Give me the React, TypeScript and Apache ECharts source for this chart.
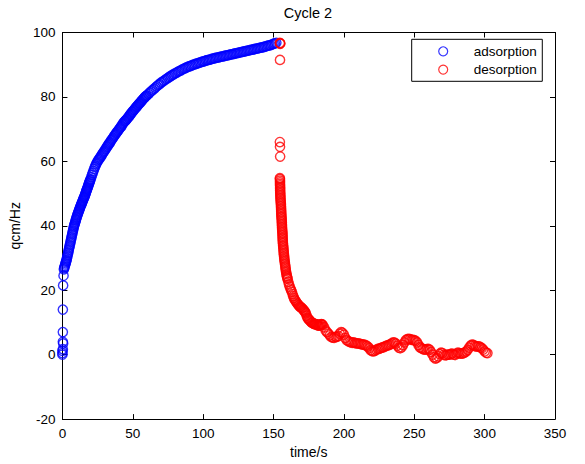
import React, { useEffect, useRef } from "react";
import * as echarts from "echarts";

const titleText = "Cycle 2";
const xName = "time/s";
const yName = "qcm/Hz";
const seriesNames = ["adsorption", "desorption"];

// Adsorption: initial jump points near t=0, then the main curve
const adsX: number[] = [
  0, 0, 0, 0.3, 0.5, 0.3, 0.3, 0.3, 0.5, 0.8,
  1, 1.25, 1.5, 1.75, 2, 2.25, 2.5, 2.75, 3, 3.25, 3.5, 3.75,
  4, 4.25, 4.5, 4.75, 5, 5.25, 5.5, 5.75, 6, 6.25, 6.5, 6.75,
  7, 7.25, 7.5, 7.75, 8, 8.25, 8.5, 8.75, 9, 9.25, 9.5, 9.75,
  10, 10.25, 10.5, 10.75, 11, 11.25, 11.5, 11.75, 12, 12.25, 12.5, 12.75,
  13, 13.25, 13.5, 13.75, 14, 14.25, 14.5, 14.75, 15, 15.25, 15.5, 15.75,
  16, 16.25, 16.5, 16.75, 17, 17.25, 17.5, 17.75, 18, 18.25, 18.5, 18.75,
  19, 19.25, 19.5, 19.75, 20,
  20.5, 21, 21.5, 22, 22.5, 23, 23.5, 24, 24.5, 25,
  25.5, 26, 26.5, 27, 27.5, 28, 28.5, 29, 29.5, 30,
  30.5, 31, 31.5, 32, 32.5, 33, 33.5, 34, 34.5, 35,
  35.5, 36, 36.5, 37, 37.5, 38, 38.5, 39, 39.5, 40,
  40.5, 41, 41.5, 42, 42.5, 43, 43.5, 44, 44.5, 45,
  45.5, 46, 46.5, 47, 47.5, 48, 48.5, 49, 49.5, 50,
  50.5, 51, 51.5, 52, 52.5, 53, 53.5, 54, 54.5, 55,
  55.5, 56, 56.5, 57, 57.5, 58, 58.5, 59, 59.5, 60,
  61, 62, 63, 64, 65, 66, 67, 68, 69, 70,
  71, 72, 73, 74, 75, 76, 77, 78, 79, 80,
  81, 82, 83, 84, 85, 86, 87, 88, 89, 90,
  91, 92, 93, 94, 95, 96, 97, 98, 99, 100,
  101, 102, 103, 104, 105, 106, 107, 108, 109, 110,
  111, 112, 113, 114, 115, 116, 117, 118, 119, 120,
  121, 122, 123, 124, 125, 126, 127, 128, 129, 130,
  131, 132, 133, 134, 135, 136, 137, 138, 139, 140,
  141, 142, 143, 144, 145, 146, 147, 148, 149, 150,
  151, 152,
];
const adsY: number[] = [
  0, 0.5, 1.2, 1.7, 3.5, 4, 7, 14, 21.5, 24.5,
  26.5, 26.9, 27.2, 27.6, 28.0, 28.4, 28.8, 29.1, 29.5, 30.0, 30.5, 31.0,
  31.5, 32.0, 32.5, 33.0, 33.5, 34.0, 34.5, 35.0, 35.5, 36.0, 36.5, 37.0,
  37.5, 38.0, 38.5, 39.0, 39.5, 39.9, 40.3, 40.6, 41.0, 41.4, 41.8, 42.1,
  42.5, 42.8, 43.2, 43.5, 43.8, 44.1, 44.4, 44.7, 45.0, 45.3, 45.6, 45.9,
  46.2, 46.5, 46.7, 47.0, 47.3, 47.6, 47.8, 48.1, 48.4, 48.7, 48.9, 49.2,
  49.5, 49.8, 50.1, 50.5, 50.8, 51.1, 51.4, 51.7, 52.0, 52.3, 52.7, 53.0,
  53.3, 53.6, 53.9, 54.2, 54.5,
  55.1, 55.8, 56.4, 57.0, 57.6, 58.2, 58.7, 59.2, 59.6, 60.0,
  60.4, 60.7, 61.0, 61.3, 61.7, 62.0, 62.4, 62.7, 63.0, 63.3,
  63.7, 64.0, 64.4, 64.7, 65.1, 65.4, 65.7, 66.0, 66.4, 66.7,
  67.0, 67.3, 67.7, 68.0, 68.3, 68.6, 68.9, 69.2, 69.5, 69.8,
  70.1, 70.4, 70.7, 71.0, 71.4, 71.7, 72.0, 72.3, 72.5, 72.7,
  73.0, 73.2, 73.5, 73.8, 74.1, 74.4, 74.7, 75.0, 75.3, 75.5,
  75.8, 76.0, 76.3, 76.6, 76.9, 77.1, 77.4, 77.6, 77.9, 78.1,
  78.4, 78.6, 78.9, 79.1, 79.4, 79.6, 79.9, 80.1, 80.3, 80.5,
  80.9, 81.3, 81.7, 82.1, 82.5, 82.9, 83.3, 83.7, 84.0, 84.4,
  84.7, 85.0, 85.3, 85.6, 85.9, 86.2, 86.5, 86.8, 87.0, 87.3,
  87.5, 87.8, 88.0, 88.2, 88.5, 88.7, 88.9, 89.1, 89.3, 89.5,
  89.6, 89.8, 90.0, 90.1, 90.3, 90.4, 90.6, 90.7, 90.9, 91.0,
  91.1, 91.3, 91.4, 91.5, 91.6, 91.8, 91.9, 92.0, 92.1, 92.2,
  92.3, 92.4, 92.5, 92.6, 92.7, 92.8, 92.9, 93.0, 93.1, 93.2,
  93.3, 93.4, 93.5, 93.6, 93.7, 93.8, 93.9, 94.0, 94.1, 94.2,
  94.3, 94.4, 94.5, 94.6, 94.7, 94.8, 94.9, 95.0, 95.1, 95.2,
  95.3, 95.4, 95.5, 95.6, 95.8, 95.9, 96.0, 96.1, 96.3, 96.5,
  96.6, 96.8,
];

const desX: number[] = [
  154.5, 154.7, 154.8, 154.6, 154.5, 154.6, 154.7,
  154.5, 154.55, 154.6, 154.6, 154.6, 154.65, 154.7, 154.7, 154.7, 154.75,
  154.8, 154.85, 154.9, 154.95, 155.0, 155.1, 155.2, 155.25, 155.3, 155.35,
  155.4, 155.45, 155.5, 155.55, 155.6, 155.7, 155.8, 155.85, 155.9, 155.95,
  156.0, 156.05, 156.1, 156.2, 156.3, 156.35, 156.4, 156.45, 156.5, 156.55,
  156.6, 156.7, 156.8, 156.9, 157.0, 157.1, 157.2, 157.3, 157.4, 157.5,
  157.6, 157.75, 157.9, 158.05, 158.2, 158.35, 158.5, 158.65, 158.8, 159.0,
  159.2, 159.4, 159.6, 159.8, 160,
  160.5, 161, 161.5, 162, 162.5, 163, 163.5, 164, 164.5, 165,
  165.5, 166, 166.5, 167, 167.5, 168, 168.5, 169, 169.5, 170,
  170.5, 171, 171.5, 172, 172.5, 173, 173.5, 174, 174.5, 175,
  175.5, 176, 176.5, 177, 177.5, 178, 178.5, 179, 179.5, 180,
  180.5, 181, 181.5, 182, 182.5, 183, 183.5, 184, 184.5, 185,
  186, 187, 188, 189, 190,
  191, 192, 193, 194, 195, 196, 197, 198, 199, 200,
  201, 202, 203, 204, 205, 206, 207, 208, 209, 210,
  211, 212, 213, 214, 215, 216, 217, 218, 219, 220,
  221, 222, 223, 224, 225, 226, 227, 228, 229, 230,
  231, 232, 233, 234, 235, 236, 237, 238, 239, 240,
  241, 242, 243, 244, 245, 246, 247, 248, 249, 250,
  251, 252, 253, 254, 255, 256, 257, 258, 259, 260,
  261, 262, 263, 264, 265, 266, 267, 268, 269, 270,
  271, 272, 273, 274, 275, 276, 277, 278, 279, 280,
  281, 282, 283, 284, 285, 286, 287, 288, 289, 290,
  291, 292, 293, 294, 295, 296, 297, 298, 299, 300,
  301, 302,
];
const desY: number[] = [
  96.8, 96.5, 96.6, 91.5, 66, 64.5, 61.5,
  54.8, 54.5, 54, 53.5, 53, 52.5, 52, 51.5, 51, 50.5,
  50, 49.5, 49, 48.5, 48, 47.5, 47, 46.5, 46, 45.5,
  45, 44.5, 44, 43.5, 43, 42.5, 42, 41.5, 41, 40.5,
  40, 39.5, 39, 38.5, 38, 37.5, 37, 36.5, 36, 35.5,
  35, 34.5, 34, 33.5, 33, 32.5, 32, 31.5, 31, 30.5,
  30, 29.5, 29, 28.5, 28, 27.5, 27, 26.5, 26, 25.5,
  25, 24.5, 24.2, 23.8, 23.5,
  22.6, 21.8, 21.1, 20.5, 20.0, 19.5, 18.8, 18.2, 17.6, 17.1,
  16.8, 16.5, 16.1, 15.8, 15.5, 15.3, 15.0, 14.8, 14.7, 14.5,
  14.3, 14.0, 13.8, 13.5, 13.2, 12.8, 12.1, 11.5, 11.2, 11.0,
  10.7, 10.5, 10.2, 10.0, 9.9, 9.8, 9.6, 9.5, 9.5, 9.5,
  9.4, 9.3, 9.1, 9.0, 9.1, 9.2, 9.4, 9.5, 9.4, 9.2,
  8.5, 7.5, 7, 6.5, 6,
  5.5, 5.3, 5.2, 5.5, 5.5, 5.8, 6.5, 7, 6.8, 6.2,
  5.2, 4.5, 4.2, 4, 3.8, 3.7, 3.8, 3.6, 3.5, 3.5,
  3.4, 3.3, 3.2, 3.1, 3.0, 2.8, 2.5, 2.0, 1.4, 1.1,
  1.0, 1.2, 1.5, 1.8, 1.8, 2.0, 2.2, 2.3, 2.5, 2.7,
  2.9, 3.0, 3.2, 3.5, 3.8, 3.7, 3.4, 2.8, 2.2, 2.0,
  2.3, 3.0, 3.8, 4.5, 4.8, 4.9, 4.8, 4.6, 4.6, 4.5,
  4.3, 3.8, 3.0, 2.3, 2.0, 1.8, 1.6, 1.6, 1.7, 1.8,
  1.5, 0.8, 0.0, -0.8, -1.2, -1.0, -0.5, 0.2, 0.6, 0.5,
  0.0, -0.2, -0.1, 0.0, 0.0, 0.2, 0.3, 0.0, -0.1, 0.3,
  0.6, 0.5, 0.3, 0.3, 0.5, 0.7, 1.0, 1.5, 2.2, 2.8,
  3.1, 3.0, 2.7, 2.5, 2.6, 2.6, 2.3, 2.0, 1.6, 1.0,
  0.6, 0.5,
];

const FONT = "'Liberation Sans', Arial, Helvetica, sans-serif";

export default function App() {
  const ref = useRef<HTMLDivElement>(null);
  useEffect(() => {
    if (!ref.current) return;
    const chart = echarts.init(ref.current, undefined, { renderer: "svg" });
    const axisCommon = {
      min: 0,
      max: 350,
      interval: 50,
      axisLine: { show: true, onZero: false, lineStyle: { color: "#000", width: 1 } },
      axisTick: { show: true, inside: true, length: 5, lineStyle: { color: "#000" } },
      splitLine: { show: false },
    };
    const yCommon = {
      min: -20,
      max: 100,
      interval: 20,
      axisLine: { show: true, onZero: false, lineStyle: { color: "#000", width: 1 } },
      axisTick: { show: true, inside: true, length: 5, lineStyle: { color: "#000" } },
      splitLine: { show: false },
    };
    const markerStyle = (c: string) => ({
      color: "rgba(255,255,255,0)",
      borderColor: c,
      borderWidth: 1.4,
    });
    chart.setOption({
      animation: false,
      backgroundColor: "#fff",
      textStyle: { fontFamily: FONT },
      title: {
        text: titleText,
        left: 308,
        top: 5,
        padding: 0,
        textAlign: "center",
        textStyle: { fontSize: 14.5, fontWeight: "normal", color: "#000", fontFamily: FONT },
      },
      grid: { left: 62.3, right: 30, top: 32.5, bottom: 44.5, containLabel: false },
      legend: {
        orient: "vertical",
        left: 411.7,
        top: 39.3,
        padding: [4, 5.6, 3.7, 26.4],
        borderColor: "#000",
        borderWidth: 1,
        backgroundColor: "#fff",
        borderRadius: 0,
        itemWidth: 50.9,
        itemHeight: 9,
        itemGap: 2.3,
        itemStyle: { borderWidth: 1.2 },
        data: seriesNames,
        textStyle: { fontSize: 13.5, color: "#000", lineHeight: 16, fontFamily: FONT },
      },
      xAxis: [
        {
          type: "value",
          position: "bottom",
          ...axisCommon,
          name: xName,
          nameLocation: "middle",
          nameGap: 24,
          nameTextStyle: { fontSize: 14, color: "#000", fontFamily: FONT },
          axisLabel: { color: "#000", fontSize: 13.5, margin: 7, fontFamily: FONT },
        },
        {
          type: "value",
          position: "top",
          ...axisCommon,
          axisLabel: { show: false },
        },
      ],
      yAxis: [
        {
          type: "value",
          position: "left",
          ...yCommon,
          name: yName,
          nameLocation: "middle",
          nameGap: 37,
          nameRotate: 90,
          nameTextStyle: { fontSize: 14, color: "#000", fontFamily: FONT },
          axisLabel: { color: "#000", fontSize: 13.5, margin: 7, fontFamily: FONT },
        },
        {
          type: "value",
          position: "right",
          ...yCommon,
          axisLabel: { show: false },
        },
      ],
      series: [
        {
          name: seriesNames[0],
          type: "scatter",
          symbol: "circle",
          symbolSize: 9.3,
          itemStyle: markerStyle("#0000ff"),
          data: adsX.map((x, i) => [x, adsY[i]]),
          xAxisIndex: 0,
          yAxisIndex: 0,
        },
        {
          name: seriesNames[1],
          type: "scatter",
          symbol: "circle",
          symbolSize: 9.3,
          itemStyle: markerStyle("#ff0000"),
          data: desX.map((x, i) => [x, desY[i]]),
          xAxisIndex: 0,
          yAxisIndex: 0,
        },
      ],
    });
    return () => chart.dispose();
  }, []);
  return <div ref={ref} style={{ width: 585, height: 464, position: "absolute", left: 0, top: 0 }} />;
}
